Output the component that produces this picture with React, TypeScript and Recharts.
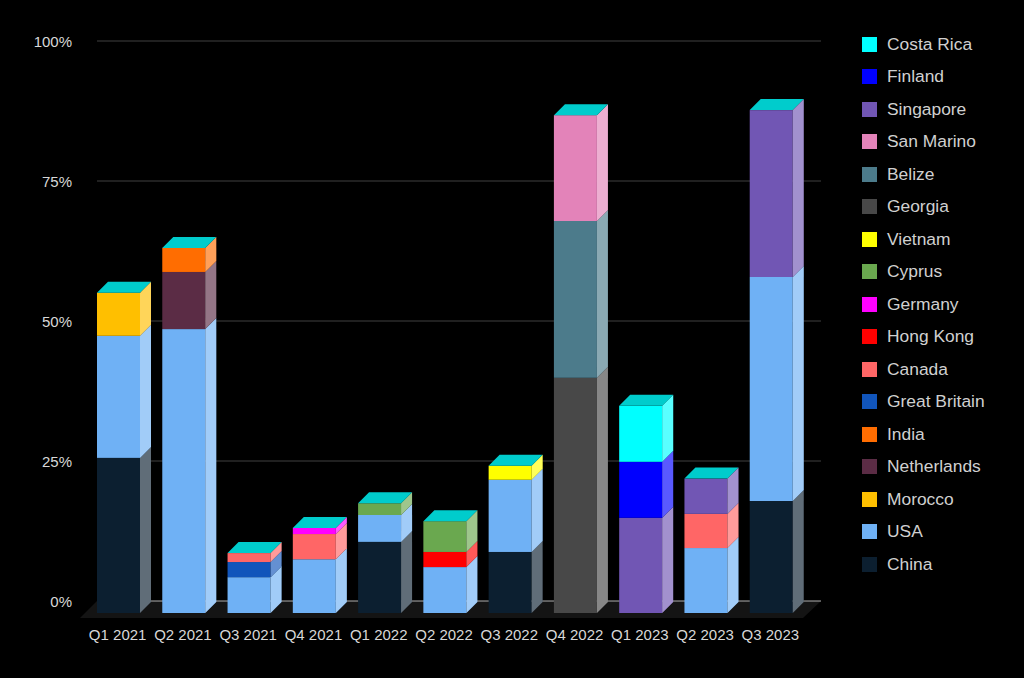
import { BarChart, Bar, XAxis, YAxis, CartesianGrid, Legend } from 'recharts';

const categories = ['Q1 2021', 'Q2 2021', 'Q3 2021', 'Q4 2021', 'Q1 2022', 'Q2 2022', 'Q3 2022', 'Q4 2022', 'Q1 2023', 'Q2 2023', 'Q3 2023'];
const yTicks = [0, 25, 50, 75, 100];

const n = null;
// bottom of the stack first
const china = [27.7, n, n, n, 12.7, n, 10.9, n, n, n, 20];
const usa = [21.8, 50.7, 6.4, 9.6, 4.8, 8.2, 12.9, n, n, 11.6, 40];
const morocco = [7.7, n, n, n, n, n, n, n, n, n, n];
const netherlands = [n, 10.2, n, n, n, n, n, n, n, n, n];
const india = [n, 4.3, n, n, n, n, n, n, n, n, n];
const greatBritain = [n, n, 2.7, n, n, n, n, n, n, n, n];
const canada = [n, n, 1.6, 4.5, n, n, n, n, n, 6.1, n];
const hongKong = [n, n, n, n, n, 2.7, n, n, n, n, n];
const germany = [n, n, n, 1.1, n, n, n, n, n, n, n];
const cyprus = [n, n, n, n, 2.1, 5.5, n, n, n, n, n];
const vietnam = [n, n, n, n, n, n, 2.5, n, n, n, n];
const georgia = [n, n, n, n, n, n, n, 42, n, n, n];
const belize = [n, n, n, n, n, n, n, 28, n, n, n];
const sanMarino = [n, n, n, n, n, n, n, 18.9, n, n, n];
const singapore = [n, n, n, n, n, n, n, n, 17, 6.3, 29.8];
const finland = [n, n, n, n, n, n, n, n, 10, n, n];
const costaRica = [n, n, n, n, n, n, n, n, 10, n, n];

const series = [
  { name: 'China', color: '#0c1f30', values: china },
  { name: 'USA', color: '#6fb1f5', values: usa },
  { name: 'Morocco', color: '#ffbf00', values: morocco },
  { name: 'Netherlands', color: '#5b2c45', values: netherlands },
  { name: 'India', color: '#ff6d01', values: india },
  { name: 'Great Britain', color: '#1155bb', values: greatBritain },
  { name: 'Canada', color: '#ff6666', values: canada },
  { name: 'Hong Kong', color: '#ff0000', values: hongKong },
  { name: 'Germany', color: '#ff00ff', values: germany },
  { name: 'Cyprus', color: '#6aa84f', values: cyprus },
  { name: 'Vietnam', color: '#ffff00', values: vietnam },
  { name: 'Georgia', color: '#484848', values: georgia },
  { name: 'Belize', color: '#4c7b8b', values: belize },
  { name: 'San Marino', color: '#e383b9', values: sanMarino },
  { name: 'Singapore', color: '#7156b4', values: singapore },
  { name: 'Finland', color: '#0000ff', values: finland },
  { name: 'Costa Rica', color: '#00ffff', values: costaRica },
];

const data = categories.map((quarter, i) => {
  const row: Record<string, string | number | null> = { quarter };
  series.forEach((s) => {
    row[s.name] = s.values[i];
  });
  return row;
});

// the last series with a value gets the teal lid
const topSeries = categories.map((_, i) => {
  let top = '';
  series.forEach((s) => {
    if (s.values[i] != null) top = s.name;
  });
  return top;
});

const FONT = '"Liberation Sans", Arial, sans-serif';
const TEXT = '#d8d8d8';
const DX = 11;
const DY = 11;

function Block(props: any) {
  const { x, y, width, height, fill, index, name } = props;
  if (!height || height <= 0 || Number.isNaN(y)) return null;
  const r = x + width;
  const b = y + height;
  return (
    <g>
      <rect x={x} y={y} width={width} height={height} fill={fill} />
      <polygon points={`${r},${b} ${r},${y} ${r + DX},${y - DY} ${r + DX},${b - DY}`} fill={fill} />
      <polygon points={`${r},${b} ${r},${y} ${r + DX},${y - DY} ${r + DX},${b - DY}`} fill="#fff" fillOpacity={0.35} />
      {topSeries[index] === name && (
        <polygon points={`${x},${y} ${r},${y} ${r + DX},${y - DY} ${x + DX},${y - DY}`} fill="#00cccc" />
      )}
    </g>
  );
}

// back-wall gridlines, pushed up and right of the front plane; the 0 line sits on the floor
function WallLine(props: any) {
  const { x1, x2, y1, y, height } = props;
  const isBase = y1 >= y + height - 1;
  const wy = y1 - 12;
  return (
    <g>
      {isBase && (
        <polygon
          points={`${x1 - 6},${y1 + 5} ${x2 - 1},${y1 + 5} ${x2 + 17},${wy} ${x1 + 11},${wy}`}
          fill="#141414"
        />
      )}
      <line x1={x1 + 11} x2={x2 + 17} y1={wy} y2={wy} stroke={isBase ? '#b0b0b0' : '#404040'} strokeWidth={1} />
    </g>
  );
}

function PercentTick(props: any) {
  const { y, payload } = props;
  return (
    <text x={72} y={y - 12} dy={6} textAnchor="end" fontSize={15} fontFamily={FONT} fill={TEXT}>
      {payload.value}%
    </text>
  );
}

function SideLegend() {
  const items = [...series].reverse();
  return (
    <div style={{ fontFamily: FONT, fontSize: 17.4, color: '#d0d0d0' }}>
      {items.map((item) => (
        <div key={item.name} style={{ display: 'flex', alignItems: 'center', height: 32.5 }}>
          <span style={{ width: 15, height: 15, background: item.color, marginRight: 10, display: 'inline-block' }} />
          {item.name}
        </div>
      ))}
    </div>
  );
}

export default function App() {
  return (
    <div style={{ position: 'fixed', left: 0, top: 0, width: 1024, height: 678, background: '#000', overflow: 'hidden' }}>
      <BarChart
        width={1024}
        height={678}
        data={data}
        margin={{ top: 53, right: 220, left: 0, bottom: 0 }}
        barCategoryGap={0}
      >
        <CartesianGrid vertical={false} horizontal={WallLine} />
        <XAxis
          dataKey="quarter"
          height={65}
          axisLine={false}
          tickLine={false}
          interval={0}
          tickMargin={10}
          tick={{ fontSize: 15, fontFamily: FONT, fill: TEXT, dx: -1 }}
        />
        <YAxis width={86} domain={[0, 100]} ticks={yTicks} axisLine={false} tickLine={false} tick={PercentTick} />
        <Legend
          layout="vertical"
          align="center"
          verticalAlign="middle"
          content={SideLegend}
          wrapperStyle={{ position: 'absolute', left: 862, top: 28, width: 150 }}
        />
        {series.map((s) => (
          <Bar
            key={s.name}
            dataKey={s.name}
            name={s.name}
            stackId="total"
            fill={s.color}
            barSize={43}
            shape={Block}
            isAnimationActive={false}
          />
        ))}
      </BarChart>
    </div>
  );
}
